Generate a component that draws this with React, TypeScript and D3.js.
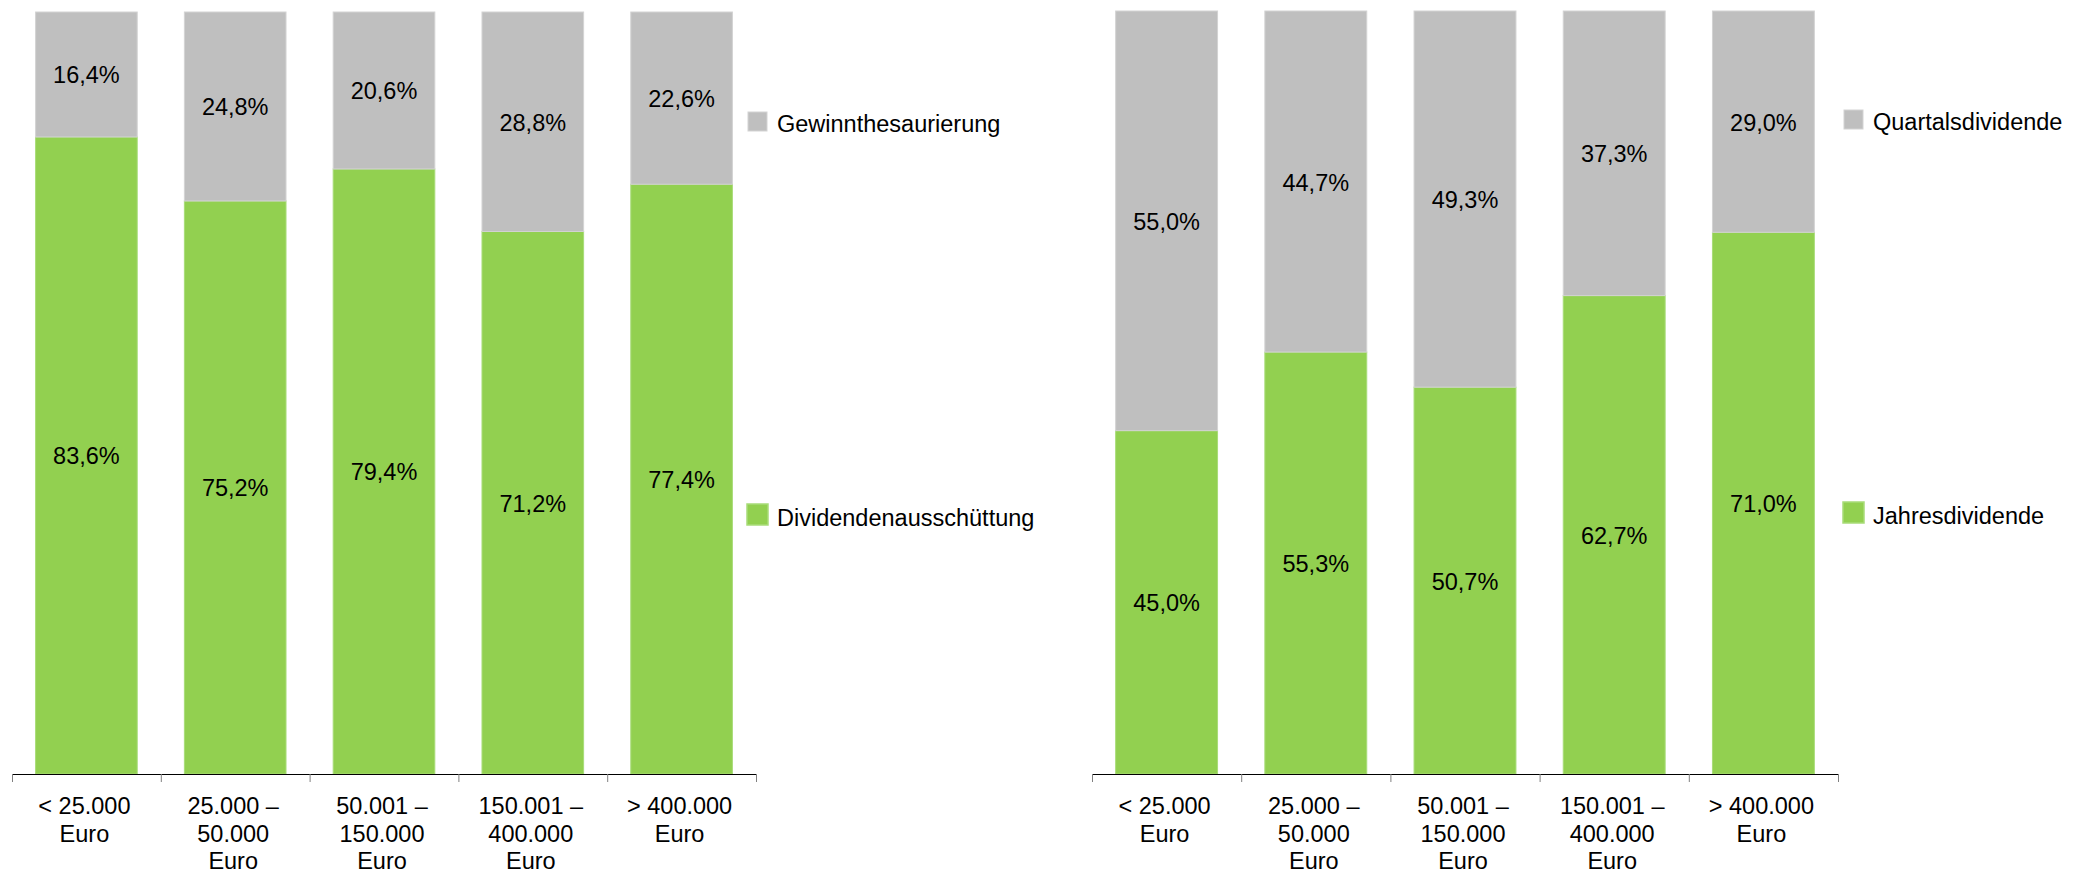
import React from "react";
import * as d3 from "d3";

const categories: string[][] = [
  ["< 25.000", "Euro"],
  ["25.000 –", "50.000", "Euro"],
  ["50.001 –", "150.000", "Euro"],
  ["150.001 –", "400.000", "Euro"],
  ["> 400.000", "Euro"],
];

const leftGreen = [83.6, 75.2, 79.4, 71.2, 77.4];
const leftGrey = [16.4, 24.8, 20.6, 28.8, 22.6];
const leftLabels = ["Dividendenausschüttung", "Gewinnthesaurierung"];

const rightGreen = [45.0, 55.3, 50.7, 62.7, 71.0];
const rightGrey = [55.0, 44.7, 49.3, 37.3, 29.0];
const rightLabels = ["Jahresdividende", "Quartalsdividende"];

const GREEN = "#92D050";
const GREY = "#BFBFBF";
const FONT = "'Liberation Sans', Arial, sans-serif";
const FS = 23.5;

const fmt = (v: number) => v.toFixed(1).replace(".", ",") + "%";

type ChartProps = {
  x0: number;
  x1: number;
  yTop: number;
  yBase: number;
  green: number[];
  grey: number[];
  labels: string[];
  legendX: number;
  legendTextX: number;
  legendGreyY: number;
  legendGreenY: number;
};

function Chart(p: ChartProps) {
  const keys = categories.map((c) => c.join(" "));
  const xBand = d3.scaleBand<string>().domain(keys).range([p.x0, p.x1]).paddingInner(0).paddingOuter(0);
  const xBar = d3
    .scaleBand<string>()
    .domain(keys)
    .range([p.x0, p.x1])
    .paddingInner(0.317)
    .paddingOuter(0.1585);
  const y = d3.scaleLinear().domain([0, 100]).range([p.yBase, p.yTop]);
  const step = xBand.step();
  const ticks = d3.range(categories.length + 1).map((i) => p.x0 + i * step);

  return (
    <g>
      {keys.map((k, i) => {
        const bx = xBar(k)!;
        const bw = xBar.bandwidth();
        const g = p.green[i];
        const r = p.grey[i];
        const gTop = y(g);
        const rTop = y(g + r);
        return (
          <g key={k}>
            <rect x={bx} y={gTop} width={bw} height={p.yBase - gTop} fill={GREEN} stroke="#a8dc78" strokeWidth={1} />
            <rect x={bx} y={rTop} width={bw} height={gTop - rTop} fill={GREY} stroke="#d3d3d3" strokeWidth={1} />
            <text x={bx + bw / 2} y={(gTop + p.yBase) / 2 + 9} textAnchor="middle" fontSize={FS} fontFamily={FONT} fill="#000">
              {fmt(g)}
            </text>
            <text x={bx + bw / 2} y={(rTop + gTop) / 2 + 9} textAnchor="middle" fontSize={FS} fontFamily={FONT} fill="#000">
              {fmt(r)}
            </text>
          </g>
        );
      })}
      <line x1={p.x0} x2={p.x1} y1={p.yBase + 0.5} y2={p.yBase + 0.5} stroke="#000" strokeWidth={1.2} />
      {ticks.map((t, i) => (
        <line key={i} x1={t + 0.5} x2={t + 0.5} y1={p.yBase} y2={p.yBase + 8} stroke="#808080" strokeWidth={1} />
      ))}
      {keys.map((k, i) => {
        const cx = xBand(k)! + xBand.bandwidth() / 2 - 2;
        return (
          <text key={k} textAnchor="middle" fontSize={FS} fontFamily={FONT} fill="#000">
            {categories[i].map((line, j) => (
              <tspan key={j} x={cx} y={814 + j * 27.5}>
                {line}
              </tspan>
            ))}
          </text>
        );
      })}
      <rect x={p.legendX} y={p.legendGreyY} width={19} height={19} fill={GREY} stroke="#d3d3d3" strokeWidth={1} />
      <text x={p.legendTextX} y={p.legendGreyY + 20} fontSize={FS} fontFamily={FONT} fill="#000">
        {p.labels[1]}
      </text>
      <rect x={p.legendX - 1} y={p.legendGreenY} width={21} height={21} fill={GREEN} stroke="#a8dc78" strokeWidth={1.5} />
      <text x={p.legendTextX} y={p.legendGreenY + 22} fontSize={FS} fontFamily={FONT} fill="#000">
        {p.labels[0]}
      </text>
    </g>
  );
}

export default function App() {
  return (
    <svg
      width={2085}
      height={874}
      style={{ position: "absolute", left: 0, top: 0, background: "#fff" }}
    >
      <rect x={0} y={0} width={2085} height={874} fill="#fff" />
      <Chart
        x0={12}
        x1={756}
        yTop={12}
        yBase={774}
        green={leftGreen}
        grey={leftGrey}
        labels={leftLabels}
        legendX={748}
        legendTextX={777}
        legendGreyY={112}
        legendGreenY={504}
      />
      <Chart
        x0={1092}
        x1={1838}
        yTop={11}
        yBase={774}
        green={rightGreen}
        grey={rightGrey}
        labels={rightLabels}
        legendX={1844}
        legendTextX={1873}
        legendGreyY={110}
        legendGreenY={502}
      />
    </svg>
  );
}
